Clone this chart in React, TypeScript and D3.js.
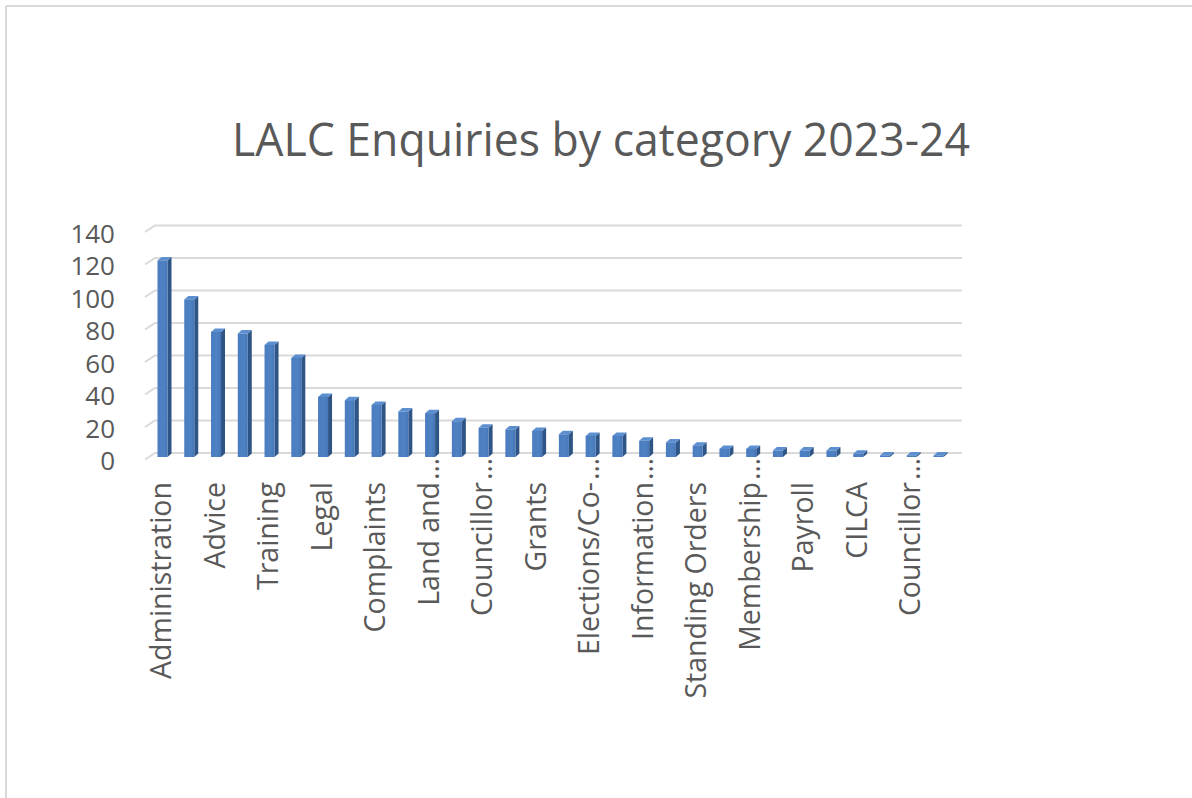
import React from "react";
import * as d3 from "d3";

const title = "LALC Enquiries by category 2023-24";

// 30 categories; only every other one is labelled on the axis (as in the original)
const categories = [
  "Administration", "", "Advice", "", "Training", "", "Legal", "", "Complaints", "",
  "Land and…", "", "Councillor…", "", "Grants", "", "Elections/Co-…", "", "Information…", "",
  "Standing Orders", "", "Membership…", "", "Payroll", "", "CILCA", "", "Councillor…", "",
];

const values = [
  121, 97, 77, 76, 69, 61, 37, 35, 32, 28,
  27, 22, 18, 17, 16, 14, 13, 13, 10, 9,
  7, 5, 5, 4, 4, 4, 2, 1, 1, 1,
];

const yTicks = [0, 20, 40, 60, 80, 100, 120, 140];

const W = 1192;
const H = 798;
const FONT = "'Open Sans', 'DejaVu Sans', sans-serif";
const TEXT = "#595959";

export default function App() {
  const idx = values.map((_, i) => i);
  const x = d3.scalePoint<number>().domain(idx).range([162.5, 938.5]);
  const y = d3.scaleLinear().domain([0, 140]).range([457, 229.5]);

  const depthX = 4;
  const depthY = 3.5;
  const half = 5;
  const backOff = 4;
  const gridLeft = 155;
  const gridRight = 962;

  return (
    <svg
      width={W}
      height={H}
      viewBox={`0 0 ${W} ${H}`}
      style={{ position: "absolute", left: 0, top: 0, background: "#fff" }}
    >
      <defs>
        <linearGradient id="front" x1="0" x2="1" y1="0" y2="0">
          <stop offset="0" stopColor="#4a7cc0" />
          <stop offset="0.6" stopColor="#4f82c2" />
          <stop offset="1" stopColor="#4677b8" />
        </linearGradient>
      </defs>
      <rect x={0} y={0} width={W} height={H} fill="#fff" />
      {/* frame */}
      <line x1={6} y1={6} x2={W} y2={6} stroke="#d9d9d9" strokeWidth={2} />
      <line x1={6} y1={6} x2={6} y2={H} stroke="#d9d9d9" strokeWidth={2} />

      {/* title */}
      <text
        x={601}
        y={156}
        textAnchor="middle"
        fontFamily={FONT}
        fontSize={46}
        fill={TEXT}
        textLength={738}
        lengthAdjust="spacingAndGlyphs"
      >
        {title}
      </text>

      {/* gridlines (back wall + side wall) */}
      {yTicks.map((t) => {
        const yb = y(t) - backOff;
        return (
          <polyline
            key={"g" + t}
            points={`${gridLeft - 10},${yb + 6.5} ${gridLeft},${yb} ${gridRight},${yb}`}
            fill="none"
            stroke="#d9d9d9"
            strokeWidth={2}
          />
        );
      })}

      {/* y tick labels */}
      {yTicks.map((t) => (
        <text
          key={"t" + t}
          x={115}
          y={y(t) + 13}
          textAnchor="end"
          fontFamily={FONT}
          fontSize={26}
          fill={TEXT}
        >
          {t}
        </text>
      ))}

      {/* 3D columns */}
      {values.map((v, i) => {
        const cx = x(i) as number;
        const yt = y(v);
        const y0 = y(0);
        const l = cx - half;
        const r = cx + half;
        return (
          <g key={"b" + i}>
            <polygon
              points={`${r},${yt} ${r + depthX},${yt - depthY} ${r + depthX},${y0 - depthY} ${r},${y0}`}
              fill="#2f5486"
            />
            <polygon
              points={`${l},${yt} ${l + depthX},${yt - depthY} ${r + depthX},${yt - depthY} ${r},${yt}`}
              fill="#5b8fd0"
            />
            <rect x={l} y={yt} width={r - l} height={y0 - yt} fill="url(#front)" />
          </g>
        );
      })}

      {/* category labels */}
      {categories.map((c, i) => {
        if (!c) return null;
        const cx = (x(i) as number) + 8.5;
        const hasEll = c.endsWith("…");
        const name = hasEll ? c.slice(0, -1) : c;
        return (
          <g key={"c" + i}>
            <text
              transform={`translate(${cx},482) rotate(-90)`}
              textAnchor="end"
              fontFamily={FONT}
              fontSize={28.5}
              fill={TEXT}
            >
              {name}
            </text>
            {hasEll && (
              <text
                transform={`translate(${cx},480) rotate(-90)`}
                textAnchor="start"
                fontFamily={FONT}
                fontSize={28.5}
                fill={TEXT}
              >
                …
              </text>
            )}
          </g>
        );
      })}
    </svg>
  );
}
